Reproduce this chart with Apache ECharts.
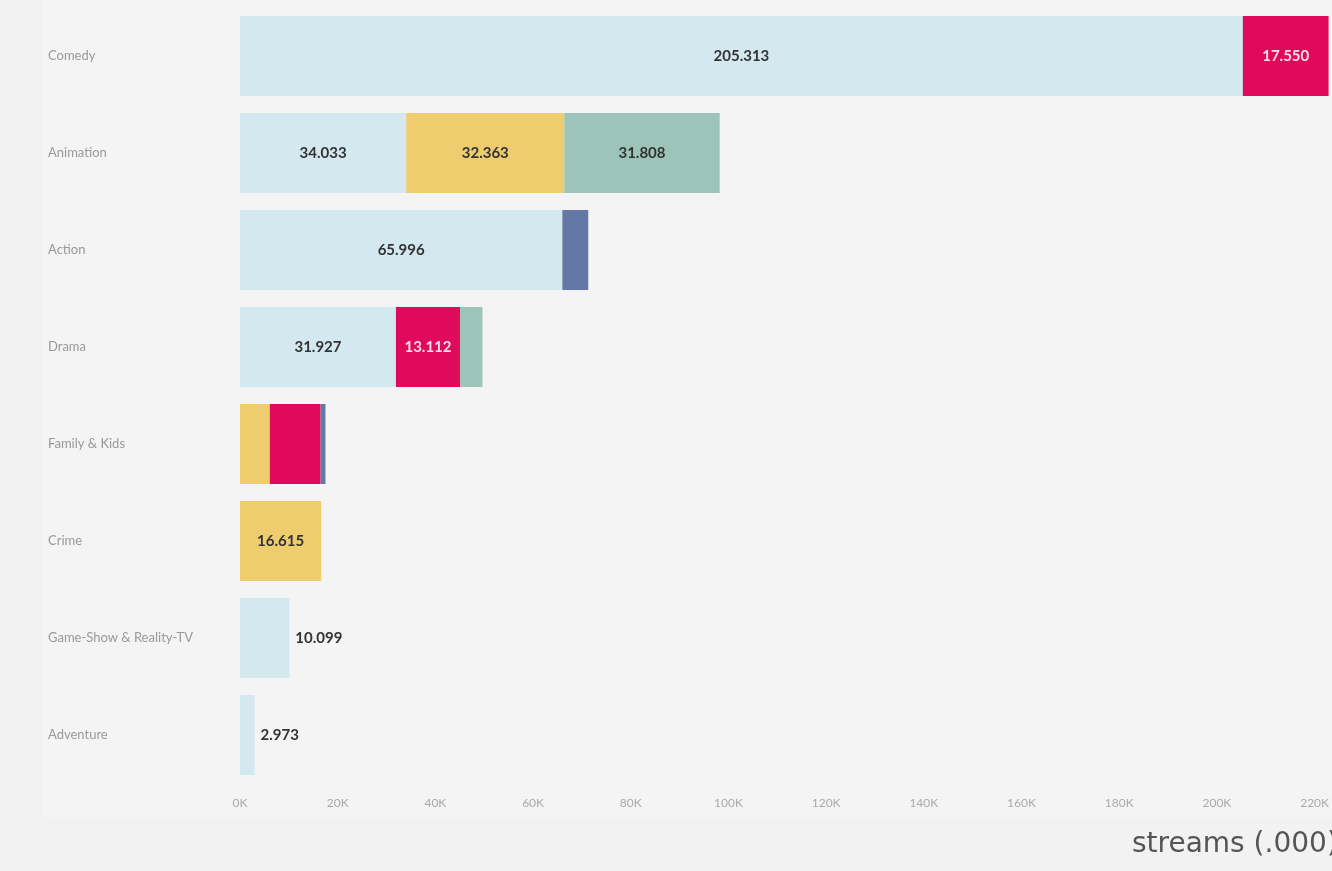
<!DOCTYPE html>
<html>
<head>
<meta charset="utf-8">
<script src="https://cdn.jsdelivr.net/npm/echarts@6/dist/echarts.min.js"></script>
<style>
    html, body { margin: 0; padding: 0; background: #f2f2f2; }
    #chart { width: 1332px; height: 871px; }
</style>
</head>
<body>
<div id="chart"></div>
<script>
// genres, top to bottom
const genres = ['Comedy', 'Animation', 'Action', 'Drama', 'Family & Kids', 'Crime', 'Game-Show & Reality-TV', 'Adventure'];

// streams per stacked segment
const lightBlue = [205313, 34033, 65996, 31927, null, null, 10099, 2973];
const yellow = [null, 32363, null, null, 6100, 16615, null, null];
const magenta = [17550, null, null, 13112, 10400, null, null, null];
const teal = [null, 31808, null, 4600, null, null, null, null];
const navy = [null, null, 5300, null, 1000, null, null, null];

const xTicks = [0, 20000, 40000, 60000, 80000, 100000, 120000, 140000, 160000, 180000, 200000, 220000];

const chartDom = document.getElementById('chart');
const myChart = echarts.init(chartDom);

function fmt(v) {
    return String(Math.round(v)).replace(/\B(?=(\d{3})+(?!\d))/g, '.');
}

const allSeries = [
    {name: 'a', data: lightBlue, color: '#d3e8ef', text: '#333'},
    {name: 'b', data: yellow, color: '#efcc6e', text: '#333'},
    {name: 'c', data: magenta, color: '#df0a5b', text: '#ffe0ea'},
    {name: 'd', data: teal, color: '#9cc4b8', text: '#333'},
    {name: 'e', data: navy, color: '#6378a6', text: '#fff'}
];

// how many segments each genre has
const segCount = genres.map((g, i) => allSeries.filter(s => s.data[i] != null).length);

const series = allSeries.map(s => ({
    name: s.name,
    type: 'bar',
    stack: 'total',
    barWidth: 80,
    clip: false,
    itemStyle: {color: s.color},
    data: s.data.map((v, i) => {
        if (v == null) return null;
        let label;
        if (segCount[i] === 1 && v < 12000) {
            label = {show: true, position: 'right', distance: 6, color: '#333'};
        } else if (v >= 12000) {
            label = {show: true, position: 'inside', color: s.text};
        } else {
            label = {show: false};
        }
        return {value: v, label: label};
    }),
    label: {
        fontFamily: 'Lato',
        fontWeight: 'bold',
        fontSize: 15,
        formatter: p => fmt(p.value)
    }
}));

let option = {
    backgroundColor: '#f2f2f2',
    animation: false,
    grid: {
        left: 240,
        right: 14,
        top: 7.5,
        bottom: 87.5
    },
    graphic: [
        {
            type: 'rect',
            z: -10,
            shape: {x: 42, y: 0, width: 1290, height: 818},
            style: {fill: '#f4f4f4'}
        },
        {
            type: 'text',
            left: 1132,
            top: 831,
            style: {
                text: 'streams (.000)',
                fontFamily: 'DejaVu Sans',
                fontSize: 28,
                fill: '#555'
            }
        }
    ],
    xAxis: {
        type: 'value',
        min: xTicks[0],
        max: xTicks[xTicks.length - 1],
        interval: xTicks[1] - xTicks[0],
        axisLine: {show: false},
        axisTick: {show: false},
        splitLine: {show: false},
        axisLabel: {
            margin: 14,
            fontFamily: 'Lato',
            fontSize: 12,
            color: '#aaa',
            formatter: v => (v / 1000) + 'K'
        }
    },
    yAxis: {
        type: 'category',
        data: genres,
        inverse: true,
        axisLine: {show: false},
        axisTick: {show: false},
        axisLabel: {
            align: 'left',
            margin: 192,
            fontFamily: 'Lato',
            fontSize: 13,
            color: '#999'
        }
    },
    series: series
};

option && myChart.setOption(option);
window.addEventListener('resize', function () {
    if (myChart != null) {
        myChart.resize();
    }
});
</script>
</body>
</html>
